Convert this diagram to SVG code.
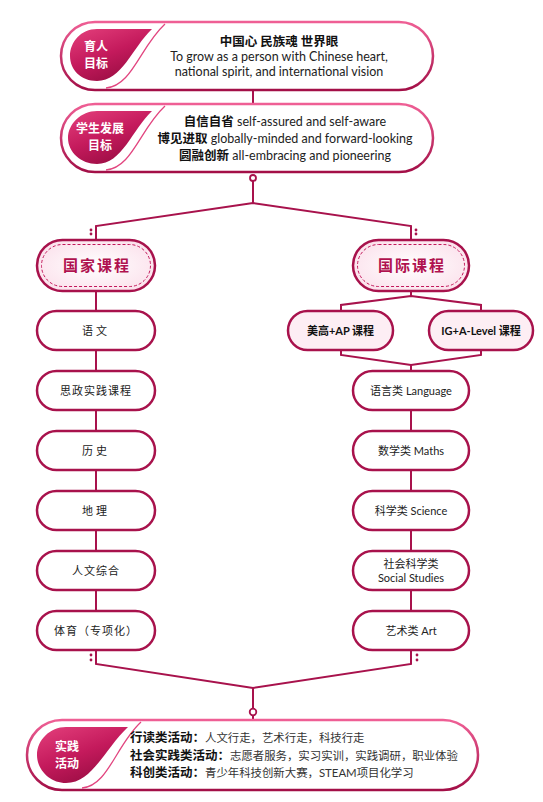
<svg xmlns="http://www.w3.org/2000/svg" width="543" height="802" viewBox="0 0 543 802">
<defs>
<linearGradient id="pillStroke" x1="0" y1="0" x2="0" y2="1">
<stop offset="0" stop-color="#ef5f95"/>
<stop offset="1" stop-color="#a30f47"/>
</linearGradient>
<linearGradient id="badgeFill" x1="0" y1="0" x2="0.6" y2="1">
<stop offset="0" stop-color="#e4407c"/>
<stop offset="0.55" stop-color="#c41a5c"/>
<stop offset="1" stop-color="#9a0d43"/>
</linearGradient>
<radialGradient id="softPink" cx="0.5" cy="0.5" r="0.6">
<stop offset="0" stop-color="#ffffff"/>
<stop offset="1" stop-color="#fbe0eb"/>
</radialGradient>
<style>
.pill{fill:#fff;stroke:url(#pillStroke);stroke-width:2.5}
.badge{fill:url(#badgeFill)}
.thin{fill:none;stroke:#e2457f;stroke-width:1.3}
.btxt{font-family:"Noto Sans CJK SC",sans-serif;font-weight:bold;font-size:12px;fill:#fff;text-anchor:middle}
.head{font-family:Lato,"Noto Sans CJK SC",sans-serif;font-size:12.5px;fill:#222;text-anchor:middle}
.b{font-weight:bold;fill:#111}
.node{fill:#fff;stroke:#a8124c;stroke-width:2.5}
.sub{fill:#fdeef4;stroke:#a8124c;stroke-width:2.5}
.cat{fill:url(#softPink);stroke:#a8124c;stroke-width:2.5}
.dash{fill:none;stroke:#c2185b;stroke-width:1;stroke-dasharray:3 2}
.ntxt{font-family:Lato,"Noto Sans CJK SC",sans-serif;font-size:11px;fill:#222;text-anchor:middle}
.cattxt{font-family:"Noto Sans CJK SC",sans-serif;font-size:15px;font-weight:bold;fill:#b0124f;text-anchor:middle;letter-spacing:2px}
.subtxt{font-family:Lato,"Noto Sans CJK SC",sans-serif;font-size:11px;font-weight:bold;fill:#111;text-anchor:middle}
.act{font-family:Lato,"Noto Sans CJK SC",sans-serif;font-size:11.4px;fill:#333}
.actb{font-size:12.5px;font-weight:bold;fill:#111}
.conn{fill:none;stroke:#a8124c;stroke-width:2}
.dot{fill:#a8124c}
.ring{fill:#fff;stroke:#a8124c;stroke-width:1.8}
</style>
</defs>

<g id="connectors">
<line class="conn" x1="253" y1="90" x2="253" y2="104"/>
<line class="conn" x1="253" y1="181" x2="253" y2="203"/>
<polyline class="conn" points="96,240 96,226 253,203 411,226 411,240"/>
<circle class="ring" cx="253" cy="178" r="3"/>
<circle class="dot" cx="91" cy="230" r="1.4"/>
<circle class="dot" cx="91" cy="234" r="1.4"/>
<circle class="dot" cx="416" cy="230" r="1.4"/>
<circle class="dot" cx="416" cy="234" r="1.4"/>
<line class="conn" x1="96" y1="291" x2="96" y2="311"/>
<line class="conn" x1="96" y1="350" x2="96" y2="371"/>
<line class="conn" x1="96" y1="410" x2="96" y2="431"/>
<line class="conn" x1="96" y1="470" x2="96" y2="491"/>
<line class="conn" x1="96" y1="530" x2="96" y2="551"/>
<line class="conn" x1="96" y1="590" x2="96" y2="611"/>
<polyline class="conn" points="341,311 341,305 411,296 481,305 481,311"/>
<line class="conn" x1="411" y1="291" x2="411" y2="296"/>
<polyline class="conn" points="341,350 341,355 411,365 481,355 481,350"/>
<line class="conn" x1="411" y1="365" x2="411" y2="371"/>
<line class="conn" x1="411" y1="410" x2="411" y2="431"/>
<line class="conn" x1="411" y1="470" x2="411" y2="491"/>
<line class="conn" x1="411" y1="530" x2="411" y2="551"/>
<line class="conn" x1="411" y1="590" x2="411" y2="611"/>
<polyline class="conn" points="96,650 96,664 253,688 411,664 411,650"/>
<line class="conn" x1="253" y1="688" x2="253" y2="708"/>
<line class="conn" x1="253" y1="715" x2="253" y2="720"/>
<circle class="ring" cx="253" cy="712" r="3.3"/>
<circle class="dot" cx="91" cy="655" r="1.4"/>
<circle class="dot" cx="91" cy="660" r="1.4"/>
<circle class="dot" cx="417" cy="655" r="1.4"/>
<circle class="dot" cx="417" cy="660" r="1.4"/>
</g>

<g id="goal-people">
<rect class="pill" x="61" y="22" width="372" height="68" rx="34"/>
<path class="badge" d="M152,29 H97 C81,29 70,42 70,56 C70,70 81,81 97,81 C122,81 132,48 152,29 Z"/>
<path class="thin" d="M165,24 C140,47 132,86 106,88"/>
<text class="btxt" x="96" y="50.5">育人</text>
<text class="btxt" x="96" y="68">目标</text>
<text class="head b" x="279" y="46" font-size="13.5">中国心 民族魂 世界眼</text>
<text class="head" x="279" y="61">To grow as a person with Chinese heart,</text>
<text class="head" x="279" y="76">national spirit, and international vision</text>
</g>

<g id="goal-student">
<rect class="pill" x="61" y="104" width="372" height="68" rx="34"/>
<path class="badge" d="M152,111 H97 C81,111 68,124 68,138 C68,152 81,164 97,164 C122,164 132,130 152,111 Z"/>
<path class="thin" d="M165,106 C140,129 132,168 106,170"/>
<text class="btxt" x="100" y="132.5">学生发展</text>
<text class="btxt" x="100" y="150">目标</text>
<text class="head" x="285" y="126"><tspan class="b">自信自省</tspan> self-assured and self-aware</text>
<text class="head" x="285" y="143"><tspan class="b">博见进取</tspan> globally-minded and forward-looking</text>
<text class="head" x="285" y="160"><tspan class="b">圆融创新</tspan> all-embracing and pioneering</text>
</g>

<g id="national">
<rect class="cat" x="37" y="240" width="118" height="51" rx="25.5"/>
<rect class="dash" x="41.5" y="244.5" width="109" height="42" rx="21"/>
<text class="cattxt" x="97" y="271">国家课程</text>
</g>
<g id="international">
<rect class="cat" x="353" y="240" width="116" height="51" rx="25.5"/>
<rect class="dash" x="357.5" y="244.5" width="107" height="42" rx="21"/>
<text class="cattxt" x="412" y="271">国际课程</text>
</g>

<g id="n-yuwen"><rect class="node" x="37" y="311" width="118" height="39" rx="19.5"/><text class="ntxt" x="96" y="334.5" letter-spacing="3">语文</text></g>
<g id="n-sizheng"><rect class="node" x="37" y="371" width="118" height="39" rx="19.5"/><text class="ntxt" x="96" y="394.5" letter-spacing="1">思政实践课程</text></g>
<g id="n-lishi"><rect class="node" x="37" y="431" width="118" height="39" rx="19.5"/><text class="ntxt" x="96" y="454.5" letter-spacing="3">历史</text></g>
<g id="n-dili"><rect class="node" x="37" y="491" width="118" height="39" rx="19.5"/><text class="ntxt" x="96" y="514.5" letter-spacing="3">地理</text></g>
<g id="n-renwen"><rect class="node" x="37" y="551" width="118" height="39" rx="19.5"/><text class="ntxt" x="96" y="574.5" letter-spacing="1">人文综合</text></g>
<g id="n-tiyu"><rect class="node" x="37" y="611" width="118" height="39" rx="19.5"/><text class="ntxt" x="96" y="634.5" letter-spacing="1">体育（专项化）</text></g>

<g id="n-ap"><rect class="sub" x="288" y="311" width="105" height="39" rx="19.5"/><text class="subtxt" x="340.5" y="334.5">美高+AP 课程</text></g>
<g id="n-alevel"><rect class="sub" x="429" y="311" width="104" height="39" rx="19.5"/><text class="subtxt" x="481" y="334.5">IG+A-Level 课程</text></g>

<g id="n-lang"><rect class="node" x="353" y="371" width="116" height="39" rx="19.5"/><text class="ntxt" x="411" y="394.5">语言类 Language</text></g>
<g id="n-math"><rect class="node" x="353" y="431" width="116" height="39" rx="19.5"/><text class="ntxt" x="411" y="454.5">数学类 Maths</text></g>
<g id="n-sci"><rect class="node" x="353" y="491" width="116" height="39" rx="19.5"/><text class="ntxt" x="411" y="514.5">科学类 Science</text></g>
<g id="n-social"><rect class="node" x="353" y="551" width="116" height="39" rx="19.5"/><text class="ntxt" x="411" y="567.5">社会科学类</text><text class="ntxt" x="411" y="582">Social Studies</text></g>
<g id="n-art"><rect class="node" x="353" y="611" width="116" height="39" rx="19.5"/><text class="ntxt" x="411" y="634.5">艺术类 Art</text></g>

<g id="practice">
<rect class="pill" x="27" y="720" width="451" height="70" rx="35"/>
<path class="badge" d="M128,727 H66 C50,727 37,740 37,755 C37,770 50,783 66,783 C92,783 104,750 128,727 Z"/>
<path class="thin" d="M141,722 C116,745 108,786 82,788"/>
<text class="btxt" x="67" y="750.5">实践</text>
<text class="btxt" x="67" y="768">活动</text>
<text class="act" x="130" y="742"><tspan class="actb">行读类活动：</tspan>人文行走，艺术行走，科技行走</text>
<text class="act" x="130" y="759.5"><tspan class="actb">社会实践类活动：</tspan>志愿者服务，实习实训，实践调研，职业体验</text>
<text class="act" x="130" y="776.5"><tspan class="actb">科创类活动：</tspan>青少年科技创新大赛，STEAM项目化学习</text>
</g>
</svg>
